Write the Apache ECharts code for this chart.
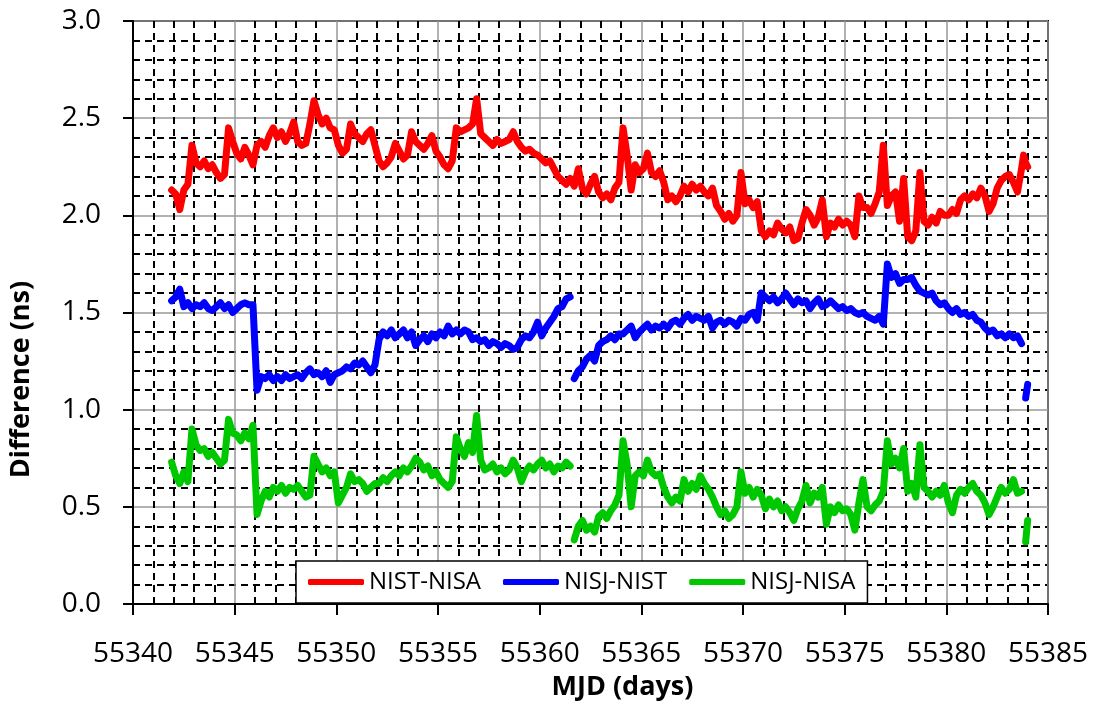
<!DOCTYPE html>
<html>
<head>
<meta charset="utf-8">
<script src="https://cdn.jsdelivr.net/npm/echarts@6/dist/echarts.min.js"></script>
<style>
html,body{margin:0;padding:0;background:#fff;}
#chart{width:1093px;height:706px;}
</style>
</head>
<body>
<div id="chart"></div>
<script>
// MJD sample times (days)
const mjd = [55341.9,
55342.1,55342.3,55342.5,55342.7,55342.9,
55343.1,55343.3,55343.5,55343.7,55343.9,
55344.1,55344.3,55344.5,55344.7,55344.9,
55345.1,55345.3,55345.5,55345.7,55345.9,
55346.1,55346.3,55346.5,55346.7,55346.9,
55347.1,55347.3,55347.5,55347.7,55347.9,
55348.1,55348.3,55348.5,55348.7,55348.9,
55349.1,55349.3,55349.5,55349.7,55349.9,
55350.1,55350.3,55350.5,55350.7,55350.9,
55351.1,55351.3,55351.5,55351.7,55351.9,
55352.1,55352.3,55352.5,55352.7,55352.9,
55353.1,55353.3,55353.5,55353.7,55353.9,
55354.1,55354.3,55354.5,55354.7,55354.9,
55355.1,55355.3,55355.5,55355.7,55355.9,
55356.1,55356.3,55356.5,55356.7,55356.9,
55357.1,55357.3,55357.5,55357.7,55357.9,
55358.1,55358.3,55358.5,55358.7,55358.9,
55359.1,55359.3,55359.5,55359.7,55359.9,
55360.1,55360.3,55360.5,55360.7,55360.9,
55361.1,55361.3,55361.5,55361.6,55361.7,55361.9,
55362.1,55362.3,55362.5,55362.7,55362.9,
55363.1,55363.3,55363.5,55363.7,55363.9,
55364.1,55364.3,55364.5,55364.7,55364.9,
55365.1,55365.3,55365.5,55365.7,55365.9,
55366.1,55366.3,55366.5,55366.7,55366.9,
55367.1,55367.3,55367.5,55367.7,55367.9,
55368.1,55368.3,55368.5,55368.7,55368.9,
55369.1,55369.3,55369.5,55369.7,55369.9,
55370.1,55370.3,55370.5,55370.7,55370.9,
55371.1,55371.3,55371.5,55371.7,55371.9,
55372.1,55372.3,55372.5,55372.7,55372.9,
55373.1,55373.3,55373.5,55373.7,55373.9,
55374.1,55374.3,55374.5,55374.7,55374.9,
55375.1,55375.3,55375.5,55375.7,55375.9,
55376.1,55376.3,55376.5,55376.7,55376.9,
55377.1,55377.3,55377.5,55377.7,55377.9,
55378.1,55378.3,55378.5,55378.7,55378.9,
55379.1,55379.3,55379.5,55379.7,55379.9,
55380.1,55380.3,55380.5,55380.7,55380.9,
55381.1,55381.3,55381.5,55381.7,55381.9,
55382.1,55382.3,55382.5,55382.7,55382.9,
55383.1,55383.3,55383.5,55383.7,55383.8,55383.9,
55384.0];

const nistNisa = [2.13,
2.11,2.03,2.13,2.16,2.36,
2.27,2.25,2.28,2.24,2.26,
2.22,2.19,2.21,2.45,2.38,
2.32,2.29,2.35,2.31,2.26,
2.36,2.38,2.35,2.41,2.45,
2.40,2.43,2.38,2.42,2.48,
2.38,2.36,2.37,2.47,2.59,
2.52,2.47,2.50,2.45,2.44,
2.36,2.32,2.34,2.47,2.42,
2.40,2.38,2.42,2.44,2.36,
2.28,2.25,2.27,2.30,2.37,
2.33,2.29,2.31,2.43,2.38,
2.36,2.34,2.37,2.41,2.33,
2.30,2.26,2.24,2.28,2.45,
2.43,2.44,2.45,2.47,2.60,
2.42,2.40,2.38,2.36,2.39,
2.37,2.38,2.39,2.43,2.38,
2.35,2.33,2.34,2.32,2.31,
2.29,2.27,2.28,2.24,2.20,
2.18,2.16,2.19,2.17,2.15,2.24,
2.14,2.11,2.16,2.20,2.12,
2.09,2.11,2.08,2.14,2.17,
2.45,2.31,2.13,2.26,2.22,
2.24,2.32,2.22,2.20,2.23,
2.17,2.08,2.10,2.07,2.10,
2.15,2.12,2.16,2.13,2.15,
2.12,2.10,2.14,2.05,2.02,
1.98,2.01,1.97,2.00,2.22,
2.06,2.08,2.04,2.07,1.92,
1.89,1.92,1.90,1.96,1.93,
1.91,1.94,1.87,1.88,1.96,
2.03,2.00,1.95,1.99,2.08,
1.89,1.96,1.94,1.98,1.95,
1.97,1.95,1.89,2.10,2.04,
2.04,2.01,2.06,2.12,2.36,
2.05,2.10,2.12,1.97,2.19,
1.89,1.87,1.92,2.22,1.97,
1.95,1.99,1.96,2.02,2.00,
2.00,2.03,2.01,2.08,2.10,
2.08,2.11,2.09,2.14,2.10,
2.02,2.06,2.14,2.18,2.20,
2.21,2.17,2.12,2.24,2.31,2.27,
2.25];

const nisjNist = [1.56,
1.58,1.62,1.53,1.55,1.52,
1.54,1.53,1.55,1.52,1.51,
1.53,1.55,1.52,1.54,1.50,
1.52,1.54,1.55,1.54,1.54,
1.10,1.17,1.16,1.18,1.15,
1.17,1.15,1.18,1.16,1.17,
1.18,1.16,1.19,1.21,1.18,
1.19,1.17,1.20,1.14,1.18,
1.19,1.20,1.22,1.21,1.24,
1.23,1.25,1.22,1.19,1.23,
1.36,1.40,1.38,1.41,1.37,
1.39,1.41,1.37,1.40,1.33,
1.36,1.38,1.35,1.39,1.37,
1.40,1.38,1.43,1.39,1.41,
1.39,1.41,1.40,1.36,1.37,
1.35,1.36,1.33,1.35,1.34,
1.32,1.34,1.33,1.31,1.32,
1.36,1.38,1.37,1.40,1.45,
1.38,1.42,1.45,1.48,1.52,
1.53,1.57,1.58,null,1.16,1.20,
1.22,1.26,1.28,1.25,1.33,
1.35,1.36,1.38,1.36,1.39,
1.39,1.41,1.43,1.37,1.40,
1.42,1.44,1.41,1.43,1.42,
1.44,1.42,1.45,1.46,1.44,
1.47,1.49,1.46,1.48,1.47,
1.46,1.48,1.42,1.45,1.46,
1.44,1.46,1.45,1.43,1.47,
1.46,1.49,1.50,1.46,1.60,
1.58,1.56,1.58,1.55,1.57,
1.60,1.57,1.54,1.57,1.55,
1.56,1.52,1.55,1.57,1.53,
1.54,1.56,1.54,1.52,1.53,
1.51,1.52,1.50,1.49,1.50,
1.48,1.47,1.46,1.48,1.44,
1.75,1.68,1.70,1.65,1.67,
1.67,1.68,1.64,1.61,1.60,
1.59,1.60,1.56,1.54,1.55,
1.52,1.50,1.52,1.49,1.50,
1.48,1.49,1.46,1.45,1.42,
1.40,1.41,1.38,1.39,1.37,
1.39,1.37,1.38,1.34,null,1.06,
1.13];

const nisjNisa = [0.73,
0.66,0.62,0.68,0.63,0.90,
0.82,0.79,0.80,0.76,0.78,
0.75,0.72,0.74,0.95,0.88,
0.87,0.84,0.88,0.85,0.92,
0.46,0.53,0.58,0.55,0.60,
0.58,0.61,0.57,0.60,0.59,
0.61,0.58,0.55,0.56,0.76,
0.72,0.68,0.70,0.66,0.68,
0.52,0.56,0.60,0.67,0.63,
0.64,0.62,0.58,0.60,0.62,
0.62,0.65,0.63,0.66,0.68,
0.66,0.70,0.68,0.71,0.75,
0.73,0.69,0.71,0.66,0.68,
0.64,0.62,0.60,0.63,0.86,
0.80,0.76,0.83,0.78,0.97,
0.74,0.69,0.70,0.72,0.68,
0.70,0.67,0.69,0.74,0.70,
0.63,0.68,0.71,0.69,0.72,
0.74,0.70,0.72,0.68,0.71,
0.70,0.73,0.71,null,0.33,0.40,
0.43,0.38,0.40,0.37,0.45,
0.47,0.44,0.48,0.51,0.56,
0.84,0.72,0.50,0.66,0.68,
0.66,0.74,0.68,0.66,0.67,
0.60,0.55,0.52,0.55,0.53,
0.64,0.58,0.62,0.59,0.66,
0.62,0.59,0.55,0.50,0.46,
0.48,0.44,0.46,0.50,0.68,
0.57,0.60,0.55,0.59,0.56,
0.49,0.54,0.50,0.53,0.48,
0.50,0.47,0.43,0.49,0.53,
0.61,0.52,0.57,0.55,0.60,
0.41,0.50,0.47,0.51,0.48,
0.49,0.46,0.38,0.52,0.64,
0.50,0.48,0.51,0.53,0.58,
0.84,0.72,0.75,0.70,0.80,
0.58,0.62,0.55,0.82,0.60,
0.58,0.55,0.58,0.56,0.61,
0.52,0.47,0.56,0.59,0.57,
0.60,0.62,0.58,0.56,0.52,
0.46,0.50,0.55,0.60,0.57,
0.59,0.64,0.57,0.58,null,0.32,
0.43];

const seriesNames = ['NIST-NISA', 'NISJ-NIST', 'NISJ-NISA'];
const seriesValues = [nistNisa, nisjNist, nisjNisa];
const seriesColors = ['#FF0000', '#0000FF', '#00C800'];
const xMin = 55340, xMax = 55385, xStep = 5;
const yMin = 0, yMax = 3, yStep = 0.5;

const FONT = '"Open Sans", "Noto Sans", sans-serif';

const chart = echarts.init(document.getElementById('chart'), null, {renderer: 'canvas'});

const majorLine = {show: true, lineStyle: {color: '#999999', width: 1.5, type: 'solid'}};
const minorLine = {show: true, lineStyle: {color: '#000000', width: 2, type: [7, 5]}};

const option = {
  animation: false,
  backgroundColor: '#ffffff',
  grid: {
    left: 131, right: 45, top: 21, bottom: 100,
    show: true, borderColor: '#000', borderWidth: 2, backgroundColor: 'transparent',
    containLabel: false
  },
  legend: {
    data: seriesNames,
    left: 296, top: 561,
    padding: [9, 12],
    itemGap: 22,
    itemWidth: 56, itemHeight: 6,
    icon: 'roundRect',
    backgroundColor: '#ffffff',
    borderColor: '#000000', borderWidth: 1.5, borderRadius: 0,
    textStyle: {fontFamily: FONT, fontSize: 24, color: '#000'}
  },
  xAxis: {
    type: 'value', min: xMin, max: xMax, interval: xStep,
    name: 'MJD (days)', nameLocation: 'middle', nameGap: 70,
    nameTextStyle: {fontFamily: FONT, fontSize: 27, fontWeight: 'bold', color: '#000', padding: [0, 0, 0, 64]},
    axisLine: {show: true, onZero: false, lineStyle: {color: '#000', width: 2}},
    axisTick: {show: true, inside: false, length: 11, lineStyle: {color: '#000', width: 2}},
    axisLabel: {fontFamily: FONT, fontSize: 28, color: '#000', margin: 36,
      formatter: v => String(Math.round(v))},
    splitLine: majorLine,
    minorTick: {show: false, splitNumber: 5},
    minorSplitLine: minorLine
  },
  yAxis: {
    type: 'value', min: yMin, max: yMax, interval: yStep,
    name: 'Difference (ns)', nameLocation: 'middle', nameGap: 98,
    nameTextStyle: {fontFamily: FONT, fontSize: 27, fontWeight: 'bold', color: '#000', padding: [0, 134, 0, 0]},
    axisLine: {show: true, onZero: false, lineStyle: {color: '#000', width: 2}},
    axisTick: {show: true, inside: false, length: 10, lineStyle: {color: '#000', width: 2}},
    axisLabel: {fontFamily: FONT, fontSize: 28, color: '#000', margin: 32,
      formatter: v => v.toFixed(1)},
    splitLine: majorLine,
    minorTick: {show: false, splitNumber: 5},
    minorSplitLine: minorLine
  },
  series: seriesNames.map((name, k) => ({
    name: name,
    type: 'line',
    showSymbol: false,
    symbol: 'none',
    connectNulls: false,
    color: seriesColors[k],
    lineStyle: {color: seriesColors[k], width: 7, join: 'round', cap: 'round'},
    itemStyle: {color: seriesColors[k]},
    emphasis: {disabled: true},
    data: mjd.map((x, i) => [x, seriesValues[k][i]])
  }))
};

chart.setOption(option);
</script>
</body>
</html>
